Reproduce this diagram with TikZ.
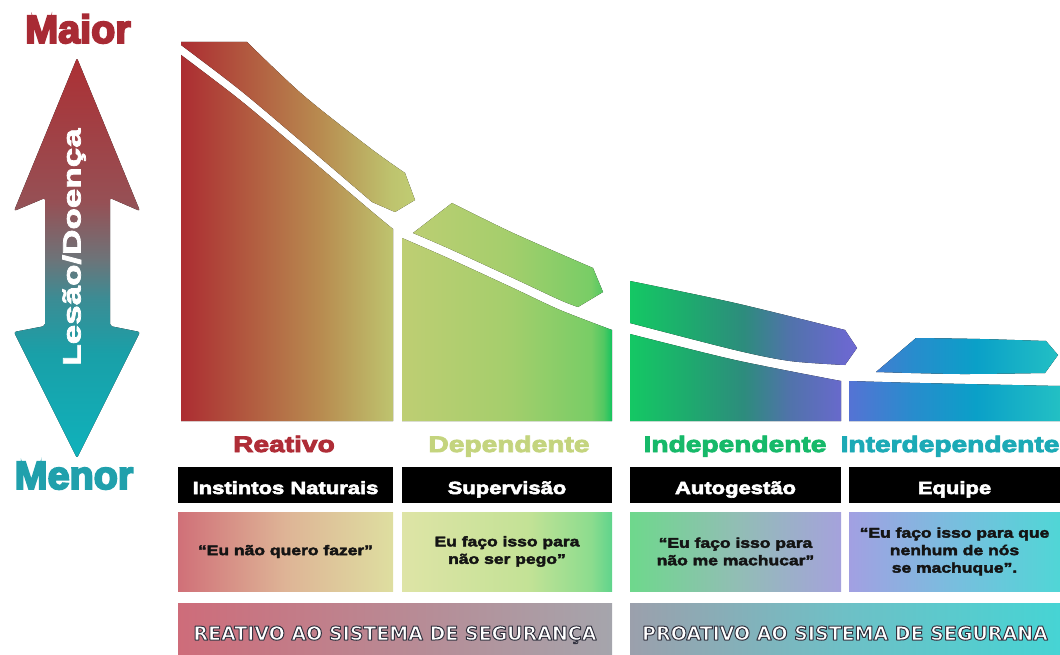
\documentclass[tikz,border=0pt]{standalone}
\usepackage{fontspec}
\setmainfont{Liberation Sans}
\newfontfamily\fHead{Liberation Sans}[FakeStretch=1.25, BoldFeatures={FakeBold=4}]
\newfontfamily\fBox{Liberation Sans}[FakeStretch=1.25, BoldFeatures={FakeBold=3.5}]
\newfontfamily\fQ{Liberation Sans}[FakeStretch=1.25, BoldFeatures={FakeBold=3}]
\newfontfamily\fHBW{Liberation Sans}[FakeStretch=1.4, BoldFeatures={FakeBold=3}]
\newfontfamily\fBig{Liberation Sans}[BoldFeatures={FakeBold=5}]
\newfontfamily\fBar{DejaVu Sans}

% colours
\definecolor{cReat}{RGB}{175,45,55}
\definecolor{cDep}{RGB}{196,212,126}
\definecolor{cInd}{RGB}{22,185,105}
\definecolor{cInt}{RGB}{28,170,182}
\definecolor{cMaior}{RGB}{168,42,52}
\definecolor{cMenor}{RGB}{32,160,172}
\definecolor{qtxt}{RGB}{20,20,20}

% stage shadings
\pgfdeclarehorizontalshading{gA}{100bp}{rgb(0bp)=(0.675,0.176,0.196); rgb(25bp)=(0.675,0.176,0.196); rgb(40bp)=(0.698,0.361,0.251); rgb(55bp)=(0.722,0.549,0.314); rgb(70bp)=(0.745,0.765,0.431); rgb(75bp)=(0.753,0.804,0.451); rgb(100bp)=(0.753,0.804,0.451)}
\pgfdeclarehorizontalshading{gB}{100bp}{rgb(0bp)=(0.745,0.808,0.451); rgb(25bp)=(0.745,0.808,0.451); rgb(50bp)=(0.647,0.808,0.424); rgb(70bp)=(0.471,0.804,0.400); rgb(73bp)=(0.314,0.784,0.384); rgb(75bp)=(0.078,0.765,0.373); rgb(100bp)=(0.078,0.765,0.373)}
\pgfdeclarehorizontalshading{gC}{100bp}{rgb(0bp)=(0.078,0.784,0.392); rgb(25bp)=(0.078,0.784,0.392); rgb(38bp)=(0.118,0.667,0.431); rgb(50bp)=(0.176,0.549,0.490); rgb(60bp)=(0.314,0.451,0.667); rgb(72bp)=(0.412,0.412,0.804); rgb(75bp)=(0.431,0.412,0.824); rgb(100bp)=(0.431,0.412,0.824)}
\pgfdeclarehorizontalshading{gD}{100bp}{rgb(0bp)=(0.333,0.451,0.831); rgb(25bp)=(0.333,0.451,0.831); rgb(40bp)=(0.157,0.549,0.804); rgb(55bp)=(0.039,0.627,0.784); rgb(75bp)=(0.137,0.753,0.769); rgb(100bp)=(0.137,0.753,0.769)}
% quote shadings
\pgfdeclarehorizontalshading{qA}{100bp}{rgb(0bp)=(0.816,0.439,0.471); rgb(25bp)=(0.816,0.439,0.471); rgb(50bp)=(0.871,0.706,0.588); rgb(75bp)=(0.871,0.871,0.627); rgb(100bp)=(0.871,0.871,0.627)}
\pgfdeclarehorizontalshading{qB}{100bp}{rgb(0bp)=(0.871,0.894,0.651); rgb(25bp)=(0.871,0.894,0.651); rgb(55bp)=(0.765,0.886,0.588); rgb(70bp)=(0.549,0.863,0.557); rgb(75bp)=(0.373,0.831,0.549); rgb(100bp)=(0.373,0.831,0.549)}
\pgfdeclarehorizontalshading{qC}{100bp}{rgb(0bp)=(0.431,0.847,0.549); rgb(25bp)=(0.431,0.847,0.549); rgb(50bp)=(0.569,0.745,0.706); rgb(75bp)=(0.647,0.635,0.863); rgb(100bp)=(0.647,0.635,0.863)}
\pgfdeclarehorizontalshading{qD}{100bp}{rgb(0bp)=(0.635,0.627,0.886); rgb(25bp)=(0.635,0.627,0.886); rgb(50bp)=(0.471,0.745,0.871); rgb(75bp)=(0.314,0.839,0.839); rgb(100bp)=(0.314,0.839,0.839)}
% bottom bars
\pgfdeclarehorizontalshading{bA}{100bp}{rgb(0bp)=(0.808,0.424,0.478); rgb(25bp)=(0.808,0.424,0.478); rgb(75bp)=(0.647,0.647,0.675); rgb(100bp)=(0.647,0.647,0.675)}
\pgfdeclarehorizontalshading{bB}{100bp}{rgb(0bp)=(0.608,0.627,0.675); rgb(25bp)=(0.608,0.627,0.675); rgb(50bp)=(0.431,0.753,0.776); rgb(75bp)=(0.275,0.831,0.831); rgb(100bp)=(0.275,0.831,0.831)}
% arrow
\pgfdeclareverticalshading{sArrow}{100bp}{rgb(0bp)=(0.059,0.698,0.737); rgb(25bp)=(0.059,0.698,0.737); rgb(38bp)=(0.098,0.627,0.659); rgb(45bp)=(0.235,0.549,0.580); rgb(50bp)=(0.431,0.451,0.471); rgb(57bp)=(0.588,0.314,0.333); rgb(75bp)=(0.675,0.188,0.204); rgb(100bp)=(0.675,0.188,0.204)}

% white text with a dark stroked outline (PDF text render mode 2)
\newcommand\strokedtext[1]{\color{white}\special{pdf:code q 2 Tr 1.0 w 1 j 0.2 0.2 0.25 RG}#1\special{pdf:code Q}}

\tikzset{
  head/.style={font=\fHead\bfseries\fontsize{22.5}{26}\selectfont, anchor=base, inner sep=0pt},
  blkbox/.style={fill=black, text=white, minimum height=36pt, inner sep=0pt,
    text height=18pt, text depth=0pt, font=\fBox\bfseries\fontsize{17.6}{21}\selectfont},
  qbox/.style={minimum height=79pt, inner sep=0pt, align=center, text=qtxt,
    font=\fQ\bfseries\fontsize{14}{17.5}\selectfont},
  barbox/.style={minimum height=52pt, inner sep=0pt, text height=22pt, text depth=0pt,
    font=\fBar\bfseries\fontsize{19}{22}\selectfont},
  bigword/.style={anchor=base, inner sep=0pt, font=\fBig\bfseries\fontsize{39.5}{42}\selectfont},
}

\begin{document}
\begin{tikzpicture}[x=1pt,y=-1pt]
\useasboundingbox (0,0) rectangle (1060,655);

% ---------- bottom bars (drawn first: outlined text) ----------
\node[barbox, shading=bA, minimum width=434pt] (r1) at (395,629)
  {\strokedtext{REATIVO AO SISTEMA DE SEGURANÇA}};
\node[barbox, shading=bB, minimum width=430pt] (r2) at (845,629)
  {\strokedtext{PROATIVO AO SISTEMA DE SEGURANA}};

% ---------- left double arrow ----------
\fill[shading=sArrow, rounded corners=2pt]
  (77,58) -- (140,211) -- (110,198) -- (110,326) -- (140,332) -- (77,458)
  -- (14,332) -- (45,326) -- (45,198) -- (14,211) -- cycle;
\node[rotate=90, anchor=base, inner sep=0pt, text=white,
  font=\fHBW\bfseries\fontsize{25}{28}\selectfont] (ld) at (80.5,247) {Lesão/Doença};
\node[bigword, text=cMaior] (maior) at (78,43) {Maior};
\node[bigword, text=cMenor] (menor) at (74,489) {Menor};

% ---------- stage 1 ----------
\fill[shading=gA]
  (181,421) -- (181,55) -- plot[smooth] coordinates {(181,55) (240,100) (303,153) (370,210) (393,229)} -- (393,421) -- cycle
  (181,44) -- (181,42) -- (247,42) -- plot[smooth] coordinates {(247,42) (303,95) (370,148) (405,173)}
  -- (415,200) -- (395,212) -- (372,202) -- plot[smooth] coordinates {(372,202) (303,143) (240,90) (181,45)} -- cycle;
% ---------- stage 2 ----------
\fill[shading=gB]
  (402,421) -- (402,238) -- plot[smooth] coordinates {(402,238) (450,259) (513,288) (560,310) (612,330)} -- (612,421) -- cycle
  (413,233) -- (452,203) -- plot[smooth] coordinates {(452,203) (513,233) (593,268)}
  -- (603,292) -- (578,307) -- plot[smooth] coordinates {(578,307) (560,300) (513,278) (450,249) (413,233)} -- cycle;
% ---------- stage 3 ----------
\fill[shading=gC]
  (630,421) -- (630,334) -- plot[smooth] coordinates {(630,334) (735,360) (841,381)} -- (841,421) -- cycle
  (630,323) -- (630,281) -- plot[smooth] coordinates {(630,281) (735,303) (845,330)}
  -- (857,348) -- (845,365) -- plot[smooth] coordinates {(845,365) (790,361) (735,350) (630,323)} -- cycle;
% ---------- stage 4 ----------
\fill[shading=gD]
  (849,421) -- (849,381) -- plot[smooth] coordinates {(849,381) (920,383) (1060,386)} -- (1060,421) -- cycle
  (876,372) -- (916,338) -- plot[smooth] coordinates {(916,338) (980,339) (1046,341)}
  -- (1058,355) -- (1045,373) -- plot[smooth] coordinates {(1045,373) (960,374) (876,372)} -- cycle;

% ---------- headings ----------
\node[head, text=cReat] (h1) at (284,452) {Reativo};
\node[head, text=cDep] (h2) at (509,452) {Dependente};
\node[head, text=cInd] (h3) at (735,452) {Independente};
\node[head, text=cInt] (h4) at (950,452) {Interdependente};

% ---------- black boxes ----------
\node[blkbox, minimum width=215pt] (k1) at (285.5,485) {Instintos Naturais};
\node[blkbox, minimum width=210pt] (k2) at (507,485) {Supervisão};
\node[blkbox, minimum width=211pt] (k3) at (735.5,485) {Autogestão};
\node[blkbox, minimum width=211pt] (k4) at (954.5,485) {Equipe};

% ---------- quote boxes ----------
\node[qbox, shading=qA, minimum width=215pt] (q1) at (285.5,551.5) {“Eu não quero fazer”};
\node[qbox, shading=qB, minimum width=210pt] (q2) at (507,551.5) {Eu faço isso para\\não ser pego”};
\node[qbox, shading=qC, minimum width=211pt] (q3) at (735.5,551.5) {“Eu faço isso para\\não me machucar”};
\node[qbox, shading=qD, minimum width=211pt] (q4) at (954.5,551.5) {“Eu faço isso para que\\nenhum de nós\\se machuque”.};
\end{tikzpicture}
\end{document}
